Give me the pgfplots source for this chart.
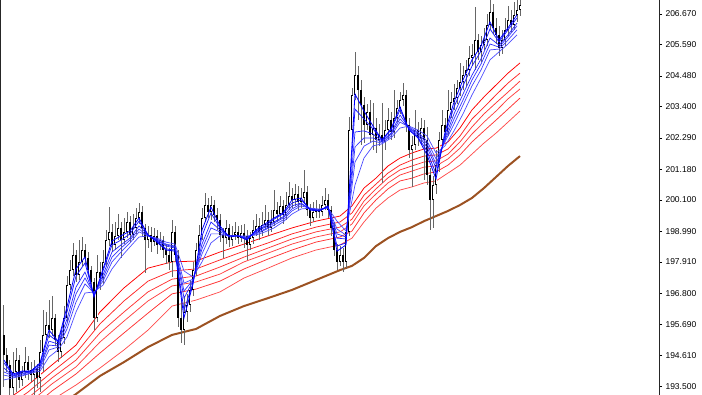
\documentclass[border=0pt]{standalone}
\usepackage{pgfplots}
\usepackage{pgfplotstable}
\pgfplotsset{compat=1.18}
\usepackage{fontspec}
\setmainfont{Liberation Sans}
\definecolor{mabrown}{RGB}{156,82,34}
\definecolor{mablue}{RGB}{0,0,255}
\definecolor{mared}{RGB}{255,0,0}
\begin{document}
\pgfplotstableread{
x o h l c
0 195.33 196.39 193.49 194.62
1 194.62 194.87 194.02 194.27
2 194.27 194.44 193.10 193.45
3 193.45 194.73 193.15 194.02
4 194.02 194.87 193.31 194.44
5 194.44 194.62 193.45 193.74
6 193.74 194.23 193.52 194.02
7 194.02 194.90 193.81 194.37
8 194.37 194.58 193.74 194.09
9 194.09 194.37 193.67 193.91
10 193.91 194.44 193.18 194.16
11 194.16 194.30 193.45 193.81
12 193.81 195.15 193.31 194.73
13 194.73 196.21 194.02 195.33
14 195.33 196.14 195.15 195.68
15 195.68 196.56 195.22 195.50
16 195.50 196.70 195.29 195.93
17 195.93 196.07 194.94 195.15
18 195.15 195.33 194.37 194.73
19 194.73 195.50 194.51 195.22
20 195.22 196.35 195.01 195.93
21 195.93 197.41 195.79 197.09
22 197.09 197.98 196.92 197.62
23 197.62 198.58 197.41 198.15
24 198.15 198.33 197.20 197.45
25 197.45 198.68 197.27 197.91
26 197.91 198.79 197.77 198.33
27 198.33 198.54 197.84 198.05
28 198.05 198.26 197.41 197.62
29 197.62 197.77 196.92 197.20
30 197.20 197.34 195.50 195.93
31 195.93 198.15 195.79 197.55
32 197.55 197.91 196.92 197.34
33 197.34 198.33 197.13 197.91
34 197.91 199.04 197.77 198.68
35 198.68 199.85 198.47 198.97
36 198.97 199.25 198.26 198.51
37 198.51 199.32 198.33 198.83
38 198.83 199.60 198.68 199.11
39 199.11 199.32 198.05 198.68
40 198.68 199.46 198.54 198.97
41 198.97 199.67 198.75 199.32
42 199.32 199.53 198.61 198.86
43 198.86 199.60 198.68 199.11
44 199.11 199.81 198.90 199.46
45 199.46 199.99 199.25 199.67
46 199.67 199.89 198.83 199.11
47 199.11 199.25 197.52 198.68
48 198.68 199.18 198.40 198.86
49 198.86 199.14 198.26 198.61
50 198.61 199.11 198.47 198.83
51 198.83 199.04 198.19 198.51
52 198.51 198.97 198.33 198.68
53 198.68 198.83 198.05 198.33
54 198.33 198.54 197.84 198.15
55 198.15 198.40 197.62 197.91
56 197.91 199.39 197.38 198.97
57 198.97 199.18 197.91 198.15
58 198.15 198.33 195.61 195.93
59 195.93 196.56 195.04 195.50
60 195.50 196.70 194.97 196.14
61 196.14 196.78 195.79 196.39
62 196.39 197.27 196.14 196.92
63 196.92 197.91 196.70 197.62
64 197.62 198.58 197.41 198.33
65 198.33 199.21 198.15 198.86
66 198.86 199.81 198.68 199.46
67 199.46 200.34 199.32 199.92
68 199.92 200.17 199.46 199.67
69 199.67 200.24 199.39 199.92
70 199.92 200.10 199.32 199.57
71 199.57 199.81 199.04 199.39
72 199.39 199.60 198.61 198.86
73 198.86 199.11 198.05 198.75
74 198.75 199.39 198.54 199.11
75 199.11 199.25 198.44 198.68
76 198.68 199.18 198.47 198.86
77 198.86 199.32 198.68 198.97
78 198.97 199.18 198.54 198.75
79 198.75 199.21 198.61 198.93
80 198.93 199.25 198.40 198.83
81 198.83 199.04 197.98 198.51
82 198.51 198.97 198.33 198.75
83 198.75 199.39 198.54 199.04
84 199.04 199.60 198.83 199.18
85 199.18 199.46 198.68 198.97
86 198.97 199.67 198.83 199.21
87 199.21 199.92 199.04 199.39
88 199.39 199.67 198.83 199.11
89 199.11 199.74 198.97 199.32
90 199.32 200.45 199.18 199.74
91 199.74 200.03 199.32 199.60
92 199.60 200.24 199.39 199.89
93 199.89 200.10 199.25 199.57
94 199.57 200.38 199.39 199.92
95 199.92 200.73 199.74 200.24
96 200.24 200.52 199.81 200.10
97 200.10 200.66 199.89 200.31
98 200.31 200.59 199.74 200.03
99 200.03 200.52 199.81 200.17
100 200.17 201.16 199.96 200.38
101 200.38 200.59 199.53 199.74
102 199.74 199.96 199.18 199.46
103 199.46 200.03 199.32 199.67
104 199.67 200.10 199.46 199.78
105 199.78 199.96 199.46 199.67
106 199.67 200.24 199.53 199.92
107 199.92 200.52 199.74 200.10
108 200.10 200.31 199.46 199.74
109 199.74 199.89 198.83 199.11
110 199.11 199.32 198.12 198.33
111 198.33 198.54 197.62 197.91
112 197.91 198.47 197.77 198.15
113 198.15 198.40 197.55 197.91
114 197.91 199.18 197.69 198.97
115 198.97 203.03 198.83 202.57
116 202.57 204.06 202.11 203.81
117 203.81 205.33 203.63 204.51
118 204.51 204.83 202.92 203.98
119 203.98 204.34 202.04 203.45
120 203.45 203.74 202.11 202.75
121 202.75 203.49 202.57 203.21
122 203.21 203.63 202.15 202.39
123 202.39 203.53 201.86 202.64
124 202.64 203.00 201.76 202.22
125 202.22 202.78 202.01 202.39
126 202.39 203.53 200.70 202.15
127 202.15 202.92 201.86 202.57
128 202.57 203.35 202.22 202.92
129 202.92 203.21 202.22 202.50
130 202.50 203.98 202.29 203.00
131 203.00 203.63 202.85 203.35
132 203.35 203.91 203.14 203.63
133 203.63 204.23 203.42 203.81
134 203.81 203.98 202.50 202.75
135 202.75 203.00 201.58 201.86
136 201.86 202.36 200.56 202.04
137 202.04 203.28 201.86 202.57
138 202.57 202.85 202.01 202.29
139 202.29 203.00 202.08 202.64
140 202.64 202.92 200.80 202.22
141 202.22 202.68 200.63 200.98
142 200.98 201.23 199.04 200.10
143 200.10 200.95 199.11 200.63
144 200.63 201.86 200.31 201.33
145 201.33 202.50 201.09 202.22
146 202.22 203.28 202.01 202.75
147 202.75 203.00 202.22 202.50
148 202.50 203.98 202.36 203.28
149 203.28 203.91 203.00 203.56
150 203.56 204.20 203.28 203.70
151 203.70 204.34 203.49 204.06
152 204.06 204.94 203.77 204.27
153 204.27 204.83 203.98 204.51
154 204.51 205.05 204.13 204.69
155 204.69 205.54 204.48 205.12
156 205.12 205.61 204.83 205.22
157 205.22 206.92 204.69 205.75
158 205.75 205.96 205.05 205.33
159 205.33 205.89 204.97 205.57
160 205.57 206.18 205.40 205.75
161 205.75 206.67 205.54 206.28
162 206.28 207.45 206.11 206.74
163 206.74 207.02 205.96 206.18
164 206.18 206.53 205.61 205.93
165 205.93 206.25 205.19 205.47
166 205.47 206.11 205.26 205.75
167 205.75 206.53 205.54 206.11
168 206.11 206.95 205.89 206.46
169 206.46 206.81 206.03 206.28
170 206.28 207.09 206.11 206.64
171 206.64 207.38 206.39 206.81
172 206.81 207.52 206.60 206.99
}\candles
\pgfplotstableread{
x b1 b2 b3 b4 b5 b6
0 194.44 194.34 194.16 194.02 193.91 193.74
3 193.95 193.91 193.88 193.88 193.84 193.81
6 194.05 194.02 193.98 193.95 193.91 193.88
9 194.05 194.05 194.02 194.02 193.98 193.98
12 194.34 194.30 194.23 194.20 194.13 194.05
15 195.50 195.33 195.11 194.97 194.80 194.55
18 195.11 195.08 195.01 194.94 194.90 194.80
21 196.32 196.14 195.89 195.72 195.54 195.26
24 197.66 197.41 197.02 196.78 196.49 196.14
27 198.08 197.87 197.55 197.34 197.13 196.81
30 196.67 196.70 196.74 196.78 196.81 196.85
33 197.66 197.59 197.45 197.34 197.23 197.09
36 198.65 198.51 198.26 198.08 197.91 197.66
39 198.83 198.68 198.51 198.40 198.26 198.08
42 199.00 198.90 198.75 198.68 198.58 198.44
45 199.46 199.35 199.18 199.07 198.97 198.79
48 198.86 198.86 198.86 198.83 198.83 198.83
51 198.61 198.65 198.68 198.68 198.72 198.75
54 198.33 198.37 198.47 198.51 198.54 198.61
57 198.29 198.33 198.40 198.44 198.47 198.54
60 195.93 196.21 196.63 196.88 197.16 197.59
63 197.13 197.16 197.23 197.27 197.30 197.38
66 199.04 198.83 198.54 198.37 198.19 197.91
69 199.85 199.64 199.32 199.11 198.90 198.58
72 199.18 199.11 199.04 198.97 198.90 198.83
75 198.79 198.83 198.83 198.83 198.83 198.83
78 198.83 198.83 198.83 198.83 198.83 198.83
81 198.68 198.72 198.75 198.75 198.79 198.83
84 199.04 199.00 198.97 198.93 198.90 198.86
87 199.25 199.18 199.14 199.07 199.04 198.97
90 199.46 199.42 199.32 199.28 199.21 199.11
93 199.64 199.60 199.50 199.46 199.39 199.32
96 200.10 199.99 199.89 199.78 199.71 199.60
99 200.17 200.10 199.99 199.96 199.89 199.78
102 199.74 199.78 199.78 199.78 199.81 199.81
105 199.71 199.71 199.74 199.74 199.74 199.78
108 199.89 199.85 199.85 199.85 199.85 199.81
111 198.29 198.47 198.75 198.90 199.07 199.35
114 198.51 198.58 198.72 198.79 198.86 199.00
117 203.84 203.31 202.50 201.97 201.44 200.63
120 203.24 202.96 202.54 202.29 202.00 201.58
123 202.71 202.61 202.43 202.29 202.18 202.01
126 202.22 202.22 202.18 202.15 202.11 202.08
129 202.61 202.57 202.46 202.43 202.36 202.29
132 203.39 203.28 203.10 202.96 202.85 202.64
135 202.57 202.61 202.64 202.64 202.68 202.71
138 202.29 202.32 202.39 202.46 202.50 202.57
141 201.69 201.83 201.97 202.08 202.18 202.36
144 200.84 201.02 201.23 201.37 201.55 201.76
147 202.50 202.39 202.29 202.22 202.15 202.01
150 203.56 203.38 203.14 202.96 202.78 202.54
153 204.34 204.13 203.84 203.63 203.45 203.14
156 205.05 204.83 204.51 204.34 204.13 203.81
159 205.54 205.36 205.08 204.90 204.69 204.41
162 206.39 206.14 205.82 205.61 205.40 205.05
165 205.75 205.68 205.57 205.50 205.43 205.33
168 206.18 206.11 205.93 205.86 205.75 205.61
171 206.64 206.53 206.35 206.25 206.11 205.93
}\bluetab
\pgfplotstableread{
x r1 r2 r3 r4 r5 r6 br
0 192.96 192.71 192.50 192.32 192.11 191.79 191.44
8 193.56 193.31 193.10 192.89 192.64 192.32 192.04
16 194.27 194.02 193.81 193.60 193.35 193.03 192.68
24 194.97 194.69 194.44 194.20 193.95 193.56 193.24
32 196.14 195.72 195.40 195.08 194.69 194.16 193.88
40 196.99 196.53 196.14 195.82 195.40 194.80 194.37
48 197.69 197.23 196.85 196.53 196.10 195.50 194.90
56 197.91 197.59 197.30 197.06 196.78 196.35 195.33
64 197.94 197.66 197.41 197.20 196.95 196.56 195.54
72 198.26 197.98 197.73 197.48 197.23 196.85 196.00
80 198.54 198.29 198.08 197.91 197.66 197.34 196.35
88 198.83 198.58 198.40 198.22 198.01 197.69 196.63
96 199.11 198.90 198.72 198.54 198.33 198.05 196.92
104 199.35 199.14 198.97 198.79 198.61 198.33 197.27
112 199.53 199.32 199.14 198.97 198.79 198.51 197.62
116 199.89 199.64 199.42 199.25 199.00 198.75 197.77
120 200.52 200.27 200.06 199.89 199.64 199.32 198.05
124 200.87 200.66 200.49 200.31 200.10 199.81 198.47
128 201.30 201.05 200.88 200.70 200.49 200.17 198.75
132 201.58 201.33 201.16 200.98 200.77 200.45 198.97
136 201.76 201.51 201.30 201.12 200.87 200.56 199.14
140 201.90 201.65 201.44 201.26 201.02 200.70 199.35
144 201.93 201.69 201.48 201.30 201.09 200.77 199.53
148 202.15 201.90 201.72 201.55 201.33 201.05 199.71
152 202.64 202.36 202.15 201.93 201.69 201.33 199.92
156 203.28 202.96 202.68 202.43 202.15 201.72 200.17
160 203.74 203.38 203.14 202.85 202.54 202.11 200.52
164 204.16 203.81 203.53 203.24 202.92 202.46 200.91
168 204.58 204.23 203.91 203.67 203.31 202.85 201.30
172 204.94 204.58 204.30 204.02 203.70 203.24 201.65
}\redtab
\begin{tikzpicture}
\begin{axis}[
  at={(0,0)}, anchor=south west,
  width=659pt, height=395pt, scale only axis,
  xmin=-1.3333, xmax=218.3333, ymin=193.207, ymax=207.165,
  axis x line=none, axis y line=box,
  ytick pos=right, yticklabel pos=right,
  ytick={193.5,194.61,195.69,196.8,197.91,198.99,200.1,201.18,202.29,203.4,204.48,205.59,206.67},
  yticklabels={193.500,194.610,195.690,196.800,197.910,198.990,200.100,201.180,202.290,203.400,204.480,205.590,206.670},
  tick align=outside, major tick length=3pt,
  tick style={black, line width=0.8pt},
  yticklabel style={font=\fontsize{8.5}{10}\selectfont, text=black},
  axis line style={black!85, line width=1pt},
]
% long-term (red) averages
\addplot[forget plot, mared, line width=0.75pt] table[x=x, y=r1] {\redtab};
\addplot[forget plot, mared!85, line width=0.75pt] table[x=x, y=r2] {\redtab};
\addplot[forget plot, mared!80, line width=0.75pt] table[x=x, y=r3] {\redtab};
\addplot[forget plot, mared!75, line width=0.75pt] table[x=x, y=r4] {\redtab};
\addplot[forget plot, mared!80, line width=0.75pt] table[x=x, y=r5] {\redtab};
\addplot[forget plot, mared!70, line width=0.75pt] table[x=x, y=r6] {\redtab};
% brown long average
\addplot[forget plot, mabrown, line width=2pt, line join=round] table[x=x, y=br] {\redtab};
% wicks
\addplot[forget plot, draw=none, mark=none,
  error bars/.cd, y dir=both, y explicit, error mark=none,
  error bar style={draw=black!60, line width=1pt}]
  table[x=x, y=c, y error plus expr={\thisrow{h}-\thisrow{c}}, y error minus expr={\thisrow{c}-\thisrow{l}}] {\candles};
% bodies
\addplot[forget plot, draw=none, mark=none,
  error bars/.cd, y dir=plus, y explicit, error mark=none,
  error bar style={draw=black, line width=2.6pt}]
  table[x=x, y expr={min(\thisrow{o},\thisrow{c})}, y error plus expr={max(abs(\thisrow{c}-\thisrow{o}),0.04)}] {\candles};
% hollow (rising) bodies
\addplot[forget plot, draw=none, mark=none,
  error bars/.cd, y dir=plus, y explicit, error mark=none,
  error bar style={draw=white, line width=1pt}]
  table[x=x, y expr={\thisrow{o}+0.035}, y error plus expr={max(\thisrow{c}-\thisrow{o}-0.07,0)}] {\candles};
% short-term (blue) averages
\addplot[forget plot, mablue!70, line width=0.7pt] table[x=x, y=b6] {\bluetab};
\addplot[forget plot, mablue!75, line width=0.7pt] table[x=x, y=b5] {\bluetab};
\addplot[forget plot, mablue!80, line width=0.7pt] table[x=x, y=b4] {\bluetab};
\addplot[forget plot, mablue!85, line width=0.7pt] table[x=x, y=b3] {\bluetab};
\addplot[forget plot, mablue!90, line width=0.75pt] table[x=x, y=b2] {\bluetab};
\addplot[forget plot, mablue, line width=0.8pt] table[x=x, y=b1] {\bluetab};
\end{axis}
\pgfresetboundingbox
\path[use as bounding box] (0,0) rectangle (702pt,395pt);
\end{tikzpicture}
\end{document}
